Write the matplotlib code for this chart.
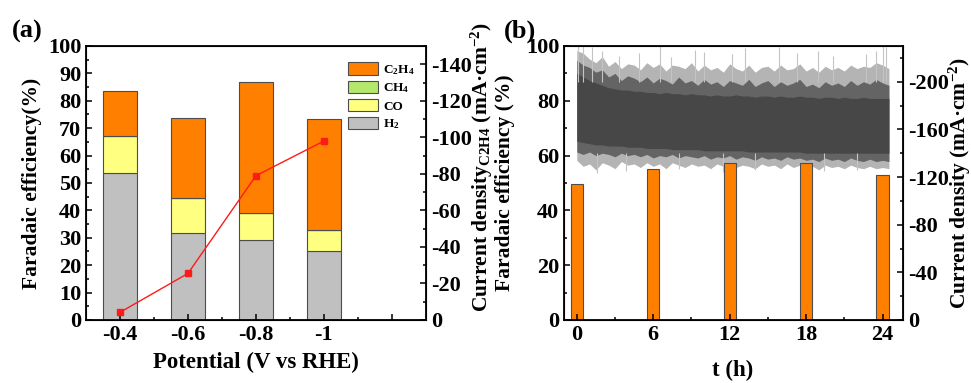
import numpy as np
import matplotlib
matplotlib.use('Agg')
import matplotlib.pyplot as plt
from matplotlib.ticker import MultipleLocator, FixedLocator

plt.rcParams['font.family'] = 'Liberation Serif'
plt.rcParams['font.weight'] = 'bold'
plt.rcParams['axes.labelweight'] = 'bold'
plt.rcParams['axes.unicode_minus'] = False
plt.rcParams['mathtext.fontset'] = 'custom'
plt.rcParams['mathtext.rm'] = 'Liberation Serif:bold'
plt.rcParams['mathtext.default'] = 'rm'

# (a) FE vs potential
potentials = ['-0.4', '-0.6', '-0.8', '-1']
fe_h2 = [53.6, 31.6, 29.2, 25.1]
fe_co = [13.7, 12.8, 10.0, 7.6]
fe_ch4 = [0.0, 0.0, 0.0, 0.0]
fe_c2h4 = [16.3, 29.2, 47.8, 40.8]
j_c2h4 = [-4.2, -25.5, -79.0, -98.0]

# (b) stability test
hours = [0, 6, 12, 18, 24]
fe_c2h4_t = [49.5, 55.0, 57.4, 57.4, 52.8]

# current density trace, read as envelopes every 0.5 h (magnitudes, mA cm-2)
t_env = np.arange(0, 24.51, 0.5)
core_up = [207, 204, 201, 199, 197, 195, 194, 193, 193, 192,
           192, 191, 191, 190, 191, 190, 190, 189, 190, 189,
           189, 188, 189, 188, 188, 189, 188, 188, 187, 188,
           188, 187, 188, 187, 187, 188, 187, 187, 186, 187,
           187, 186, 187, 186, 186, 187, 186, 186, 186, 186]
core_lo = [150, 149, 148, 147, 147, 146, 146, 146, 145, 145,
           145, 144, 144, 144, 144, 143, 143, 143, 143, 143,
           142, 142, 142, 142, 142, 142, 142, 141, 141, 141,
           141, 141, 141, 141, 141, 141, 140, 140, 140, 140,
           140, 140, 140, 140, 140, 140, 140, 140, 140, 140]
mid_up = [218, 214, 212, 208, 210, 204, 207, 201, 205, 203,
          200, 204, 199, 203, 201, 198, 204, 199, 201, 197,
          202, 198, 200, 196, 201, 199, 197, 202, 196, 199,
          201, 196, 200, 197, 199, 202, 196, 198, 195, 200,
          197, 199, 196, 201, 197, 200, 198, 202, 199, 197]
mid_lo = [141, 139, 141, 138, 140, 139, 137, 140, 138, 139,
          137, 139, 136, 138, 137, 139, 136, 138, 137, 136,
          138, 135, 137, 136, 138, 135, 137, 136, 134, 137,
          135, 136, 134, 137, 135, 136, 134, 135, 133, 136,
          134, 135, 133, 136, 134, 133, 135, 133, 134, 133]
outer_up = [226, 224, 219, 216, 221, 213, 217, 211, 215, 214,
            210, 216, 212, 215, 209, 214, 213, 211, 216, 209,
            214, 210, 212, 208, 215, 211, 209, 214, 208, 212,
            213, 209, 214, 210, 211, 215, 209, 212, 208, 213,
            210, 212, 209, 214, 211, 213, 212, 216, 214, 211]
outer_lo = [134, 129, 131, 126, 132, 130, 127, 133, 130, 131,
            128, 132, 129, 131, 127, 132, 130, 128, 131, 129,
            130, 127, 131, 129, 132, 128, 130, 129, 127, 131,
            129, 130, 127, 131, 128, 130, 127, 129, 126, 130,
            128, 129, 127, 130, 128, 127, 129, 127, 128, 127]
spike_t = [0.1, 0.5, 1.2, 2.0, 3.3, 4.9, 6.5, 7.4, 9.3, 10.0,
           12.2, 13.2, 15.9, 17.3, 18.9, 20.1, 22.7, 23.5, 24.0, 24.3]
spike_top = [230, 230, 229, 226, 222, 224, 230, 221, 227, 225,
             223, 228, 229, 224, 226, 222, 223, 226, 230, 229]
dip_t = [1.6, 3.9, 8.0, 11.5, 14.0, 19.4, 22.0]
dip_low = [123, 125, 127, 124, 126, 125, 126]

fig = plt.figure(figsize=(9.71, 3.83), dpi=100)
TICK = 16

def style(ax, tw):
    for s in ax.spines.values():
        s.set_linewidth(1.3)
    ax.tick_params(which='both', direction='in', width=1.1, labelsize=TICK, top=False)
    ax.tick_params(which='major', length=4.5)
    ax.tick_params(which='minor', length=2.5)
    tw.tick_params(which='both', direction='in', width=1.1, labelsize=TICK)
    tw.tick_params(which='major', length=4.5)
    tw.tick_params(which='minor', length=2.5)
    ax.tick_params(axis='y', right=False)

# ---------- (a)
ax1 = fig.add_axes([0.0886, 0.1645, 0.350, 0.7154])
ax2 = ax1.twinx()
x = np.arange(1, 5)
ec = '#4d4d4d'
b_h2 = ax1.bar(x, fe_h2, 0.5, color='#c0c0c0', edgecolor=ec, lw=0.8)
bot = np.array(fe_h2)
b_co = ax1.bar(x, fe_co, 0.5, bottom=bot, color='#ffff80', edgecolor=ec, lw=0.8)
bot = bot + fe_co
b_ch4 = ax1.bar(x, fe_ch4, 0.5, bottom=bot, color='#b4e86c', edgecolor=ec, lw=0.8)
bot = bot + fe_ch4
b_c2 = ax1.bar(x, fe_c2h4, 0.5, bottom=bot, color='#ff8000', edgecolor=ec, lw=0.8)

ax2.plot(x, j_c2h4, '-s', color='#ff1a1a', lw=1.0, ms=5)

ax1.set_xlim(0.5, 5.5)
ax1.set_xticks([1, 2, 3, 4, 5])
ax1.set_xticklabels(potentials + [''])
ax1.xaxis.set_minor_locator(FixedLocator([1.5, 2.5, 3.5, 4.5]))
ax1.set_ylim(0, 100)
ax1.yaxis.set_major_locator(MultipleLocator(10))
ax1.yaxis.set_minor_locator(MultipleLocator(5))
ax2.set_ylim(0, -150)
ax2.set_yticks(range(0, -141, -20))
ax2.yaxis.set_minor_locator(MultipleLocator(10))
style(ax1, ax2)

ax1.set_xlabel('Potential (V vs RHE)', fontsize=16.5)
ax1.xaxis.set_label_coords(0.5, -0.115)
ax1.set_ylabel('Faradaic efficiency(%)', fontsize=15.5)
ax1.yaxis.set_label_coords(-0.13, 0.5)
ax2.set_ylabel('Current density$_{\\mathregular{C2H4}}$ (mA·cm$^{-2}$)', fontsize=15.5)
ax2.yaxis.set_label_coords(1.126, 0.56)

ax1.legend([b_c2, b_ch4, b_co, b_h2], ['C$_2$H$_4$', 'CH$_4$', 'CO', 'H$_2$'],
           loc='upper left', bbox_to_anchor=(0.771, 0.94), frameon=False,
           fontsize=9.5, borderpad=0, borderaxespad=0, handlelength=2.3,
           handleheight=1.05, labelspacing=0.3, handletextpad=0.35)

# ---------- (b)
ax3 = fig.add_axes([0.5809, 0.1645, 0.349, 0.7154])
ax4 = ax3.twinx()
ax4.fill_between(t_env, -np.array(outer_lo), -np.array(outer_up), color='#b4b4b4', lw=0)
ax4.vlines(spike_t, -200, -np.array(spike_top), color='#c4c4c4', lw=0.8)
ax4.vlines(dip_t, -140, -np.array(dip_low), color='#c4c4c4', lw=0.8)
ax4.fill_between(t_env, -np.array(mid_lo), -np.array(mid_up), color='#646464', lw=0)
ax4.fill_between(t_env, -np.array(core_lo), -np.array(core_up), color='#474747', lw=0)

ax3.bar(hours, fe_c2h4_t, 0.95, color='#ff8000', edgecolor=ec, lw=0.8)
ax3.set_zorder(ax4.get_zorder() + 1)
ax3.patch.set_visible(False)

ax3.set_xlim(-1, 25.6)
ax3.set_xticks(hours)
ax3.xaxis.set_minor_locator(FixedLocator([3, 9, 15, 21]))
ax3.set_ylim(0, 100)
ax3.yaxis.set_major_locator(MultipleLocator(20))
ax3.yaxis.set_minor_locator(MultipleLocator(10))
ax4.set_ylim(0, -230)
ax4.set_yticks(range(0, -201, -40))
ax4.yaxis.set_minor_locator(MultipleLocator(20))
style(ax3, ax4)

ax3.set_xlabel('t (h)', fontsize=16.5)
ax3.xaxis.set_label_coords(0.4985, -0.145)
ax3.set_ylabel('Faradaic efficiency (%)', fontsize=15.5)
ax3.yaxis.set_label_coords(-0.145, 0.5)
ax4.set_ylabel('Current density (mA·cm$^{-2}$)', fontsize=15.5)
ax4.yaxis.set_label_coords(1.128, 0.5)

fig.text(0.012, 0.919, '(a)', fontsize=19, fontweight='bold', va='center')
fig.text(0.519, 0.919, '(b)', fontsize=19, fontweight='bold', va='center')

fig.savefig('out.png', dpi=100)
